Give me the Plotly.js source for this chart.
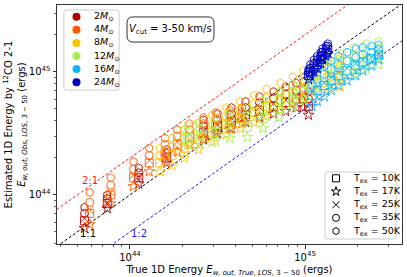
<!DOCTYPE html>
<html><head><meta charset="utf-8">
<script src="https://cdn.plot.ly/plotly-3.0.1.min.js"></script>
<style>html,body{margin:0;padding:0;background:#fff}#chart{width:407px;height:277px}</style>
</head><body><div id="chart"></div>
<script>
// All energies are log10(E / erg)
const massLabels = ['2', '4', '8', '12', '16', '24'];
const massColors = ['#b40000', '#ff5a00', '#ffc400', '#a6f050', '#10b4ff', '#0000c0'];
const texLabels = ['10K', '17K', '25K', '35K', '50K'];
const texSymbols = ['square-open', 'star-open', 'x-thin-open', 'circle-open', 'hexagon-open'];

// 2 Msun
const true_2M = [43.74, 43.87, 44.05, 44.21, 44.42, 44.50, 44.58, 44.66, 44.74, 44.82, 44.89, 44.95, 44.99, 45.02];
const obs_2M_10K = [43.79, 43.93, 44.14, 44.30, 44.51, 44.56, 44.60, 44.65, 44.69, 44.72, 44.75, 44.78, 44.78, 44.72];
const obs_2M_17K = [43.73, 43.89, 44.09, 44.26, 44.45, 44.50, 44.54, 44.59, 44.63, 44.66, 44.68, 44.71, 44.71, 44.65];
const obs_2M_25K = [43.81, 43.94, 44.15, 44.31, 44.52, 44.57, 44.62, 44.67, 44.71, 44.74, 44.77, 44.80, 44.80, 44.74];
const obs_2M_35K = [43.85, 43.97, 44.18, 44.34, 44.56, 44.61, 44.66, 44.71, 44.75, 44.79, 44.82, 44.85, 44.86, 44.78];
const obs_2M_50K = [43.90, 44.00, 44.22, 44.37, 44.61, 44.66, 44.71, 44.76, 44.80, 44.84, 44.88, 44.91, 44.92, 44.84];
// 4 Msun
const true_4M = [43.77, 43.89, 44.02, 44.11, 44.20, 44.27, 44.34, 44.42, 44.49, 44.57, 44.64];
const obs_4M_10K = [43.85, 44.00, 44.14, 44.26, 44.34, 44.41, 44.47, 44.52, 44.56, 44.59, 44.63];
const obs_4M_17K = [43.76, 43.93, 44.07, 44.19, 44.28, 44.35, 44.41, 44.46, 44.50, 44.54, 44.58];
const obs_4M_25K = [43.88, 44.02, 44.16, 44.28, 44.36, 44.43, 44.49, 44.54, 44.58, 44.61, 44.64];
const obs_4M_35K = [43.94, 44.08, 44.21, 44.32, 44.41, 44.48, 44.53, 44.58, 44.62, 44.65, 44.67];
const obs_4M_50K = [44.02, 44.14, 44.27, 44.38, 44.46, 44.53, 44.58, 44.63, 44.67, 44.69, 44.71];
// 8 Msun
const true_8M = [44.17, 44.24, 44.31, 44.39, 44.47, 44.55, 44.63, 44.71, 44.78, 44.86, 44.93, 44.99, 45.06, 45.13, 45.20];
const obs_8M_10K = [44.26, 44.32, 44.38, 44.45, 44.51, 44.57, 44.62, 44.67, 44.72, 44.77, 44.82, 44.87, 44.92, 44.95, 44.96];
const obs_8M_17K = [44.19, 44.24, 44.30, 44.37, 44.43, 44.49, 44.54, 44.59, 44.64, 44.69, 44.74, 44.79, 44.84, 44.87, 44.88];
const obs_8M_25K = [44.28, 44.34, 44.40, 44.47, 44.53, 44.59, 44.64, 44.69, 44.74, 44.79, 44.84, 44.89, 44.94, 44.97, 44.99];
const obs_8M_35K = [44.32, 44.39, 44.46, 44.52, 44.58, 44.64, 44.69, 44.74, 44.79, 44.84, 44.89, 44.94, 45.00, 45.03, 45.05];
const obs_8M_50K = [44.38, 44.46, 44.53, 44.59, 44.65, 44.71, 44.76, 44.81, 44.86, 44.91, 44.96, 45.01, 45.07, 45.10, 45.12];
// 12 Msun
const true_12M = [44.33, 44.40, 44.49, 44.57, 44.67, 44.76, 44.85, 44.93, 45.00, 45.07, 45.14, 45.21, 45.28, 45.35, 45.42];
const obs_12M_10K = [44.47, 44.48, 44.51, 44.53, 44.55, 44.62, 44.70, 44.78, 44.84, 44.91, 44.96, 45.01, 45.06, 45.09, 45.13];
const obs_12M_17K = [44.41, 44.42, 44.44, 44.46, 44.47, 44.54, 44.63, 44.71, 44.77, 44.84, 44.89, 44.94, 44.98, 45.02, 45.06];
const obs_12M_25K = [44.48, 44.50, 44.53, 44.55, 44.58, 44.64, 44.72, 44.80, 44.86, 44.93, 44.98, 45.03, 45.08, 45.11, 45.15];
const obs_12M_35K = [44.52, 44.54, 44.57, 44.61, 44.64, 44.70, 44.78, 44.84, 44.91, 44.97, 45.04, 45.09, 45.13, 45.17, 45.19];
const obs_12M_50K = [44.57, 44.59, 44.63, 44.67, 44.71, 44.77, 44.84, 44.90, 44.97, 45.03, 45.10, 45.15, 45.20, 45.23, 45.25];
// 16 Msun
const true_16M = [45.04, 45.07, 45.11, 45.15, 45.19, 45.24, 45.29, 45.33, 45.38, 45.42];
const obs_16M_10K = [44.81, 44.85, 44.89, 44.93, 44.97, 45.01, 45.05, 45.08, 45.11, 45.14];
const obs_16M_17K = [44.72, 44.76, 44.80, 44.85, 44.89, 44.93, 44.97, 45.01, 45.05, 45.10];
const obs_16M_25K = [44.84, 44.88, 44.91, 44.96, 45.00, 45.03, 45.07, 45.10, 45.12, 45.15];
const obs_16M_35K = [44.90, 44.94, 44.98, 45.02, 45.06, 45.09, 45.12, 45.14, 45.16, 45.18];
const obs_16M_50K = [44.98, 45.02, 45.05, 45.09, 45.13, 45.16, 45.19, 45.20, 45.21, 45.22];
// 24 Msun
const true_24M = [45.02, 45.03, 45.05, 45.07, 45.09, 45.10, 45.12, 45.13];
const obs_24M_10K = [44.97, 45.00, 45.03, 45.06, 45.10, 45.13, 45.16, 45.18];
const obs_24M_17K = [44.94, 44.97, 45.00, 45.03, 45.07, 45.10, 45.13, 45.15];
const obs_24M_25K = [44.98, 45.01, 45.04, 45.07, 45.11, 45.14, 45.17, 45.19];
const obs_24M_35K = [45.00, 45.03, 45.07, 45.10, 45.13, 45.16, 45.19, 45.21];
const obs_24M_50K = [45.02, 45.06, 45.10, 45.13, 45.16, 45.19, 45.21, 45.23];

const refRatios = [2, 1, 0.5];
const refLabels = ['2:1', '1:1', '1:2'];
const refColors = ['#ff2020', '#000000', '#2020ff'];
const refLineLogX = [43.3, 45.8];
const tickVals = [1e44, 1e45];
const tickText = ['10<sup>44</sup>', '10<sup>45</sup>'];

const massSets = [
  [true_2M, [obs_2M_10K, obs_2M_17K, obs_2M_25K, obs_2M_35K, obs_2M_50K]],
  [true_4M, [obs_4M_10K, obs_4M_17K, obs_4M_25K, obs_4M_35K, obs_4M_50K]],
  [true_8M, [obs_8M_10K, obs_8M_17K, obs_8M_25K, obs_8M_35K, obs_8M_50K]],
  [true_12M, [obs_12M_10K, obs_12M_17K, obs_12M_25K, obs_12M_35K, obs_12M_50K]],
  [true_16M, [obs_16M_10K, obs_16M_17K, obs_16M_25K, obs_16M_35K, obs_16M_50K]],
  [true_24M, [obs_24M_10K, obs_24M_17K, obs_24M_25K, obs_24M_35K, obs_24M_50K]]
];

const pw = v => Math.pow(10, v);
const traces = [];

refRatios.forEach((r, i) => {
  const xs = refLineLogX.map(pw);
  traces.push({
    x: xs, y: xs.map(v => v * r), mode: 'lines', showlegend: false, hoverinfo: 'skip',
    line: {color: refColors[i], width: 1, dash: '3px,2px'}
  });
});

massSets.forEach(([xt, ys], m) => {
  ys.forEach((yo, t) => {
    traces.push({
      x: xt.map(pw), y: yo.map(pw), mode: 'markers', showlegend: false,
      marker: {symbol: texSymbols[t], size: 8, color: massColors[m],
               line: {color: massColors[m], width: 0.9}}
    });
  });
});

// ---- hand-built legends on an overlay (paper-like 0..1) axis pair ----
const leg1 = {x0: 0.020, x1: 0.180, y0: 0.644, y1: 0.979, mx: 0.0565, tx: 0.101, top: 0.951, step: 0.0548};
const leg2 = {x0: 0.777, x1: 0.983, y0: 0.021, y1: 0.301, mx: 0.8087, tx: 0.852, top: 0.2749, step: 0.0552};
const legendFont = {size: 9.5, color: '#000'};
const annotations = [];

massLabels.forEach((ml, m) => {
  const yy = leg1.top - m * leg1.step;
  traces.push({x: [leg1.mx], y: [yy], xaxis: 'x2', yaxis: 'y2', mode: 'markers', showlegend: false,
    marker: {symbol: 'circle', size: 8, color: massColors[m]}});
  annotations.push({xref: 'x2', yref: 'y2', x: leg1.tx, y: yy, xanchor: 'left', yanchor: 'middle',
    showarrow: false, text: ml + '<i>M</i><sub>⊙</sub>', font: legendFont});
});
texLabels.forEach((tl, t) => {
  const yy = leg2.top - t * leg2.step;
  traces.push({x: [leg2.mx], y: [yy], xaxis: 'x2', yaxis: 'y2', mode: 'markers', showlegend: false,
    marker: {symbol: texSymbols[t], size: 7, color: '#000', line: {color: '#000', width: 1}}});
  annotations.push({xref: 'x2', yref: 'y2', x: leg2.tx, y: yy, xanchor: 'left', yanchor: 'middle',
    showarrow: false, text: 'T<sub>ex</sub> = ' + tl, font: legendFont});
});

function roundRect(b, rx, ry) {
  const {x0, x1, y0, y1} = b;
  return `M ${x0 + rx} ${y0} L ${x1 - rx} ${y0} Q ${x1} ${y0} ${x1} ${y0 + ry} L ${x1} ${y1 - ry} Q ${x1} ${y1} ${x1 - rx} ${y1} L ${x0 + rx} ${y1} Q ${x0} ${y1} ${x0} ${y1 - ry} L ${x0} ${y0 + ry} Q ${x0} ${y0} ${x0 + rx} ${y0} Z`;
}
const vbox = {x0: 0.203, x1: 0.455, y0: 0.845, y1: 0.950};

const minorVals = [];
for (let e = 43; e <= 45; e++) for (let d = 2; d <= 9; d++) minorVals.push(d * Math.pow(10, e));

const axisCommon = {
  type: 'log', showgrid: false, zeroline: false, showline: true, mirror: true,
  linecolor: '#333', linewidth: 1, ticks: 'outside', ticklen: 3.5, tickwidth: 0.8, tickcolor: '#000',
  tickvals: tickVals, ticktext: tickText, tickfont: {size: 10},
  minor: {ticks: 'outside', ticklen: 2, tickwidth: 0.6, tickcolor: '#000', tickvals: minorVals}
};

annotations.push(
  {xref: 'paper', yref: 'paper', x: (vbox.x0 + vbox.x1) / 2, y: (vbox.y0 + vbox.y1) / 2,
   xanchor: 'center', yanchor: 'middle', showarrow: false,
   text: '<i>V</i><sub>cut</sub> = 3-50 km/s', font: {size: 10}},
  {x: 43.77, y: 44.12, text: refLabels[0], showarrow: false, font: {size: 10, color: refColors[0]}},
  {x: 43.76, y: 43.69, text: refLabels[1], showarrow: false, font: {size: 10, color: refColors[1]}},
  {x: 44.05, y: 43.69, text: refLabels[2], showarrow: false, font: {size: 10, color: refColors[2]}}
);

const layout = {
  width: 407, height: 277,
  margin: {l: 57, r: 5, t: 5, b: 33},
  paper_bgcolor: '#fff', plot_bgcolor: '#fff',
  font: {family: 'DejaVu Sans, sans-serif', size: 10, color: '#000'},
  showlegend: false,
  xaxis: Object.assign({}, axisCommon, {
    range: [43.583, 45.554],
    title: {text: 'True 1D Energy <i>E</i><sub><i>w, out, True, LOS</i>, 3 − 50</sub> (ergs)', font: {size: 10}, standoff: 4}
  }),
  yaxis: Object.assign({}, axisCommon, {
    range: [43.601, 45.544],
    title: {text: 'Estimated 1D Energy by <sup>12</sup>CO 2-1<br><i>E</i><sub><i>w, out, Obs, LOS</i>, 3 − 50</sub> (ergs)', font: {size: 10}, standoff: 0}
  }),
  xaxis2: {overlaying: 'x', range: [0, 1], visible: false, fixedrange: true},
  yaxis2: {overlaying: 'y', range: [0, 1], visible: false, fixedrange: true},
  shapes: [
    {type: 'path', xref: 'paper', yref: 'paper', path: roundRect(vbox, 0.017, 0.025), layer: 'below',
     line: {color: '#000', width: 0.8}, fillcolor: '#fff'},
    {type: 'path', xref: 'paper', yref: 'paper', path: roundRect(leg1, 0.006, 0.009), layer: 'below',
     line: {color: '#cccccc', width: 1}, fillcolor: '#fff'},
    {type: 'path', xref: 'paper', yref: 'paper', path: roundRect(leg2, 0.006, 0.009), layer: 'below',
     line: {color: '#cccccc', width: 1}, fillcolor: '#fff'}
  ],
  annotations: annotations
};

Plotly.newPlot('chart', traces, layout, {displayModeBar: false, staticPlot: true});
</script>
</body></html>
